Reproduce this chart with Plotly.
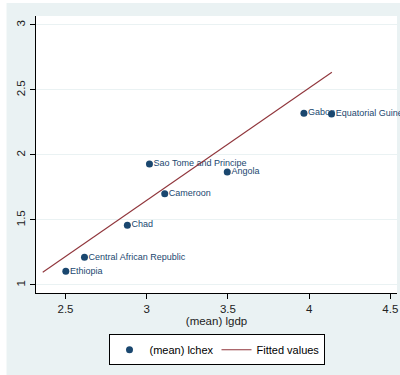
import plotly.graph_objects as go

countries = ["Ethiopia", "Central African Republic", "Chad", "Cameroon",
             "Sao Tome and Principe", "Angola", "Gabon", "Equatorial Guinea"]
lgdp = [2.502, 2.617, 2.881, 3.111, 3.017, 3.496, 3.968, 4.138]
lchex = [1.105, 1.213, 1.460, 1.702, 1.931, 1.869, 2.321, 2.315]
fit_x = [2.360, 4.140]
fit_y = [1.098, 2.636]

x_ticks = [2.5, 3, 3.5, 4, 4.5]
x_ticklabels = ["2.5", "3", "3.5", "4", "4.5"]
y_ticks = [1, 1.5, 2, 2.5, 3]
y_ticklabels = ["1", "1.5", "2", "2.5", "3"]

FONT = "Liberation Sans, Arial, sans-serif"
NAVY = "#1A476F"
MAROON = "#90353B"
BG = "#EAF2F3"
TXT = "#222222"

W, H = 400, 375
ML, MR, MT, MB = 35.5, 3.3, 16, 82.3

fig = go.Figure()
# labels (drawn first so markers sit on top); invisible markers set the text offset
fig.add_trace(go.Scatter(
    x=lgdp, y=lchex, mode="markers+text", text=countries, textposition="middle right",
    marker=dict(size=5, color="rgba(0,0,0,0)"),
    textfont=dict(family=FONT, size=9, color=NAVY), showlegend=False,
    hoverinfo="skip", cliponaxis=False))
fig.add_trace(go.Scatter(
    x=lgdp, y=lchex, mode="markers", name="(mean) lchex",
    marker=dict(color=NAVY, size=7, line=dict(width=0)), cliponaxis=False))
fig.add_trace(go.Scatter(
    x=fit_x, y=fit_y, mode="lines", name="Fitted values",
    line=dict(color=MAROON, width=1.1)))

# outer graph region background (leaving thin white strip at left/top)
pw = W - ML - MR
ph = H - MT - MB
fig.add_shape(type="rect", xref="paper", yref="paper",
              x0=-(ML - 6) / pw, x1=1 + MR / pw,
              y0=-MB / ph, y1=1 + (MT - 3) / ph,
              fillcolor=BG, line=dict(width=0), layer="below")
fig.add_shape(type="rect", xref="x domain", yref="y domain", x0=0, x1=1,
              y0=0, y1=1, fillcolor="white", line=dict(width=0), layer="below")

fig.update_layout(
    width=W, height=H,
    margin=dict(l=ML, r=MR, t=MT, b=MB, pad=0, autoexpand=False),
    paper_bgcolor="white", plot_bgcolor="white",
    font=dict(family=FONT, size=11.5, color=TXT),
    showlegend=True,
    legend=dict(orientation="h", x=0.5, xanchor="center", y=-0.149, yanchor="top",
                bgcolor="white", bordercolor="black", borderwidth=1,
                font=dict(family=FONT, size=11, color="black"),
                itemwidth=30, tracegroupgap=0, entrywidth=62, entrywidthmode="pixels"),
)
fig.update_xaxes(
    range=[2.3185, 4.541], tickvals=x_ticks, ticktext=x_ticklabels,
    showgrid=False, zeroline=False, showline=True, linecolor="black", linewidth=1,
    ticks="outside", ticklen=5, tickcolor="black", tickwidth=1,
    tickfont=dict(family=FONT, size=11.5, color=TXT),
    title=dict(text="(mean) lgdp", standoff=3, font=dict(family=FONT, size=11.5, color=TXT)),
    automargin=False)
fig.update_yaxes(
    range=[0.938, 3.069], tickvals=y_ticks, ticktext=y_ticklabels, tickangle=-90,
    showgrid=True, gridcolor=BG, gridwidth=1, zeroline=False,
    showline=True, linecolor="black", linewidth=1,
    ticks="outside", ticklen=5, tickcolor="black", tickwidth=1,
    tickfont=dict(family=FONT, size=11.5, color=TXT),
    automargin=False)

fig.write_html("out.html", config={"displayModeBar": False},
               post_script="document.body.style.margin='0';document.body.style.padding='0';")
